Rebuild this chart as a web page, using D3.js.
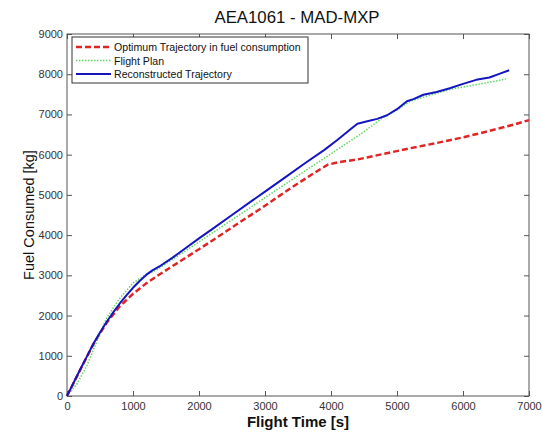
<!DOCTYPE html>
<html>
<head>
<meta charset="utf-8">
<script src="https://cdn.jsdelivr.net/npm/d3@7"></script>
<style>
  body { margin: 0; background: #fff; }
  text { font-family: "Liberation Sans", Arial, sans-serif; }
</style>
</head>
<body>
<div id="root"></div>
<script>
// DATA
const xTicks = [0, 1000, 2000, 3000, 4000, 5000, 6000, 7000];
const yTicks = [0, 1000, 2000, 3000, 4000, 5000, 6000, 7000, 8000, 9000];

const optTime = [0, 200, 400, 600, 800, 1000, 1200, 1400, 1600, 1800, 2000, 2300, 2600, 3000, 3400, 3800, 3950, 4100, 4400, 4800, 5200, 5600, 6000, 6400, 6800, 7000];
const optFuel = [0, 650, 1290, 1820, 2230, 2540, 2800, 3020, 3230, 3440, 3650, 3970, 4300, 4730, 5180, 5600, 5750, 5810, 5880, 6020, 6160, 6290, 6430, 6590, 6760, 6860];

const planTime = [0, 150, 300, 450, 600, 800, 1000, 1200, 1350, 1600, 2000, 2500, 3000, 3500, 4000, 4500, 4800, 5000, 5200, 5400, 5800, 6200, 6650];
const planFuel = [0, 300, 750, 1350, 1940, 2430, 2810, 3020, 3130, 3400, 3830, 4380, 4930, 5480, 6020, 6570, 6940, 7110, 7330, 7430, 7620, 7740, 7880];

const recTime = [0, 100, 200, 300, 400, 500, 600, 700, 800, 900, 1000, 1100, 1200, 1300, 1400, 1600, 1800, 2000, 2200, 2500, 2800, 3000, 3300, 3600, 3900, 4100, 4300, 4400, 4550, 4700, 4850, 5000, 5150, 5250, 5400, 5600, 5800, 6000, 6200, 6400, 6550, 6700];
const recFuel = [0, 330, 660, 980, 1300, 1580, 1840, 2080, 2300, 2500, 2690, 2860, 3010, 3130, 3220, 3440, 3680, 3920, 4150, 4500, 4850, 5080, 5430, 5780, 6120, 6370, 6640, 6770, 6830, 6890, 6980, 7130, 7330, 7380, 7490, 7560, 7650, 7760, 7860, 7920, 8010, 8100];

const seriesNames = ['Optimum Trajectory in fuel consumption', 'Flight Plan', 'Reconstructed Trajectory'];

// DIMENSIONS
const W = 542, H = 432;
const margin = { top: 34, right: 13, bottom: 36, left: 67 };
const width = W - margin.left - margin.right,
      height = H - margin.top - margin.bottom;

const svg = d3.select('#root')
  .append('svg')
  .attr('width', W)
  .attr('height', H)
  .style('background', '#fff');

const g = svg.append('g')
  .attr('transform', `translate(${margin.left}, ${margin.top})`);

// Scales
const x = d3.scaleLinear().domain([0, 7000]).range([0, width]);
const y = d3.scaleLinear().domain([0, 9000]).range([height, 0]);

// Axes (ticks pointing inward, mirrored on top/right)
function styleAxis(sel) {
  sel.select('.domain').remove();
  sel.selectAll('.tick line').attr('stroke', '#555');
  sel.selectAll('.tick text').attr('fill', '#333').style('font-size', '11px');
}

g.append('g')
  .attr('transform', `translate(0, ${height})`)
  .call(d3.axisBottom(x).tickValues(xTicks).tickSizeInner(-5).tickSizeOuter(0).tickPadding(6).tickFormat(d3.format('d')))
  .call(styleAxis);

g.append('g')
  .call(d3.axisLeft(y).tickValues(yTicks).tickSizeInner(-5).tickSizeOuter(0).tickPadding(4).tickFormat(d3.format('d')))
  .call(styleAxis);

g.append('g')
  .call(d3.axisTop(x).tickValues(xTicks).tickSizeInner(-5).tickSizeOuter(0).tickFormat(''))
  .call(styleAxis);

g.append('g')
  .attr('transform', `translate(${width}, 0)`)
  .call(d3.axisRight(y).tickValues(yTicks).tickSizeInner(-5).tickSizeOuter(0).tickFormat(''))
  .call(styleAxis);

// plot box
g.append('rect')
  .attr('width', width)
  .attr('height', height)
  .attr('fill', 'none')
  .attr('stroke', '#555')
  .attr('stroke-width', 1);

// Lines
const line = d3.line().x(d => x(d[0])).y(d => y(d[1]));
const zip = (a, b) => a.map((v, i) => [v, b[i]]);

const styles = [
  { color: '#e02424', width: 2.5, dash: '6,3' },
  { color: '#5fd85f', width: 1.5, dash: '1.5,1.5' },
  { color: '#1515c0', width: 2, dash: null }
];
const series = [zip(optTime, optFuel), zip(planTime, planFuel), zip(recTime, recFuel)];

series.forEach((data, i) => {
  g.append('path')
    .datum(data)
    .attr('fill', 'none')
    .attr('stroke', styles[i].color)
    .attr('stroke-width', styles[i].width)
    .attr('stroke-dasharray', styles[i].dash)
    .attr('stroke-linejoin', 'round')
    .attr('d', line);
});

// Legend
const legend = svg.append('g').attr('transform', 'translate(72, 37)');
legend.append('rect')
  .attr('width', 236)
  .attr('height', 46)
  .attr('fill', '#fff')
  .attr('stroke', '#333')
  .attr('stroke-width', 1);

seriesNames.forEach((name, i) => {
  const yy = 10 + i * 13.5;
  legend.append('line')
    .attr('x1', 4).attr('x2', 39)
    .attr('y1', yy).attr('y2', yy)
    .attr('stroke', styles[i].color)
    .attr('stroke-width', styles[i].width)
    .attr('stroke-dasharray', styles[i].dash);
  legend.append('text')
    .attr('x', 42)
    .attr('y', yy + 4)
    .style('font-size', '10.6px')
    .attr('fill', '#111')
    .text(name);
});

// Title and axis labels
svg.append('text')
  .attr('x', 297)
  .attr('y', 23)
  .attr('text-anchor', 'middle')
  .style('font-size', '16.8px')
  .attr('fill', '#111')
  .text('AEA1061 - MAD-MXP');

svg.append('text')
  .attr('x', 298)
  .attr('y', 427)
  .attr('text-anchor', 'middle')
  .style('font-size', '15px')
  .style('font-weight', 'bold')
  .attr('fill', '#111')
  .text('Flight Time [s]');

svg.append('text')
  .attr('transform', 'translate(34, 215) rotate(-90)')
  .attr('text-anchor', 'middle')
  .style('font-size', '14.5px')
  .attr('fill', '#111')
  .text('Fuel Consumed [kg]');
</script>
</body>
</html>
